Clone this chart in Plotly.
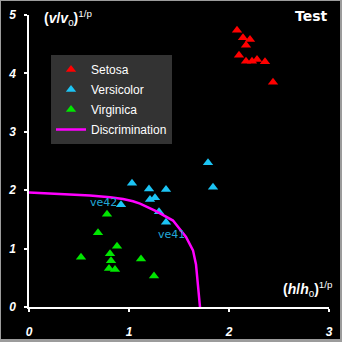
import plotly.graph_objects as go

# Iris test samples in normalised (h/h0)^(1/p), (v/v0)^(1/p) space
setosa_x = [2.08, 2.14, 2.21, 2.17, 2.10, 2.17, 2.23, 2.28, 2.36, 2.44]
setosa_y = [4.74, 4.61, 4.58, 4.48, 4.31, 4.21, 4.21, 4.24, 4.20, 3.85]

versicolor_x = [1.03, 1.20, 1.37, 1.84, 1.79, 1.21, 1.26, 0.92, 1.30, 1.37]
versicolor_y = [2.12, 2.02, 2.01, 2.05, 2.47, 1.84, 1.87, 1.75, 1.63, 1.45]

virginica_x = [0.78, 0.69, 0.88, 0.81, 0.52, 0.82, 0.80, 0.86, 1.12, 1.25]
virginica_y = [1.59, 1.27, 1.04, 0.91, 0.85, 0.79, 0.66, 0.64, 0.82, 0.53]

# Discrimination boundary
disc_x = [0.0, 0.30, 0.61, 0.81, 0.94, 1.04, 1.11, 1.27, 1.44, 1.57, 1.64, 1.67, 1.71]
disc_y = [1.96, 1.94, 1.91, 1.88, 1.85, 1.81, 1.77, 1.64, 1.48, 1.20, 0.97, 0.73, 0.0]

# Labelled versicolor samples: (name, x, y)
tagged = [("ve42", 0.92, 1.75), ("ve41", 1.37, 1.45)]

x_ticks = [0, 1, 2, 3]
y_ticks = [0, 1, 2, 3, 4, 5]

RED = "#ff0000"
CYAN = "#1cc4f4"
GREEN = "#00e600"
MAGENTA = "#ff00ff"
LABEL_CYAN = "#22a6d6"

W, H = 342, 342
ML, MR, MT, MB = 29, 13, 15, 35
PW, PH = W - ML - MR, H - MT - MB


def px_x(p):
    return (p - ML) / PW


def px_y(p):
    return (H - MB - p) / PH


fig = go.Figure()

marker_kw = dict(symbol="triangle-up", size=9, line=dict(width=0))
fig.add_trace(go.Scatter(x=setosa_x, y=setosa_y, mode="markers", name="Setosa",
                         legendgroup="a", marker=dict(color=RED, **marker_kw)))
fig.add_trace(go.Scatter(x=versicolor_x, y=versicolor_y, mode="markers", name="Versicolor",
                         legendgroup="b", marker=dict(color=CYAN, **marker_kw)))
fig.add_trace(go.Scatter(x=virginica_x, y=virginica_y, mode="markers", name="Virginica",
                         legendgroup="c", marker=dict(color=GREEN, **marker_kw)))
fig.add_trace(go.Scatter(x=disc_x, y=disc_y, mode="lines", name="Discrimination",
                         legendgroup="d", line=dict(color=MAGENTA, width=2.5)))

annotations = []
for name, x, y in tagged:
    if name == "ve42":
        annotations.append(dict(x=x, y=y, xref="x", yref="y", text=name, showarrow=False,
                                xanchor="right", yanchor="middle", xshift=-2, yshift=2,
                                font=dict(family="DejaVu Sans", size=11, color=LABEL_CYAN)))
    else:
        annotations.append(dict(x=x, y=y, xref="x", yref="y", text=name, showarrow=False,
                                xanchor="center", yanchor="middle", xshift=5, yshift=-12,
                                font=dict(family="DejaVu Sans", size=11, color=LABEL_CYAN)))

title_font = dict(family="Liberation Sans", size=14, color="white")
annotations.append(dict(xref="paper", yref="paper", x=px_x(42), y=px_y(18),
                        xanchor="left", yanchor="middle", showarrow=False,
                        text="<b>(<i>v</i>/<i>v</i></b><sub>0</sub><b>)</b><sup>1/p</sup>",
                        font=title_font))
annotations.append(dict(xref="paper", yref="paper", x=px_x(335), y=px_y(289),
                        xanchor="right", yanchor="middle", showarrow=False,
                        text="<b>(<i>h</i>/<i>h</i></b><sub>0</sub><b>)</b><sup>1/p</sup>",
                        font=title_font))
annotations.append(dict(xref="paper", yref="paper", x=px_x(311), y=px_y(16),
                        xanchor="center", yanchor="middle", showarrow=False,
                        text="<b>Test</b>",
                        font=dict(family="DejaVu Sans", size=14, color="white")))

shapes = [dict(type="rect", xref="paper", yref="paper", layer="below",
               x0=px_x(1), x1=px_x(340), y0=px_y(339), y1=px_y(1),
               fillcolor="black", line=dict(width=0))]

tick_font = dict(family="Liberation Sans", size=12, color="white", style="italic", weight="bold")
axis_common = dict(showgrid=False, zeroline=False, showline=True, linecolor="white",
                   linewidth=1.5, ticks="outside", ticklen=3, tickwidth=1.5,
                   tickcolor="white", tickfont=tick_font, automargin=False)

fig.update_layout(
    width=W, height=H,
    margin=dict(l=ML, r=MR, t=MT, b=MB, autoexpand=False),
    paper_bgcolor="#9c9c9c",
    plot_bgcolor="black",
    xaxis=dict(range=[0, 3], tickvals=x_ticks, ticktext=[str(v) for v in x_ticks],
               ticklabelstandoff=10, **axis_common),
    yaxis=dict(range=[0, 5], tickvals=y_ticks, ticktext=[str(v) for v in y_ticks],
               ticklabelstandoff=6, **axis_common),
    legend=dict(x=px_x(51), y=px_y(55), xanchor="left", yanchor="top",
                bgcolor="#333333", borderwidth=0, tracegroupgap=1,
                font=dict(family="Liberation Sans", size=12, color="white")),
    annotations=annotations,
    shapes=shapes,
    showlegend=True,
)

fig.write_html("out.html")
